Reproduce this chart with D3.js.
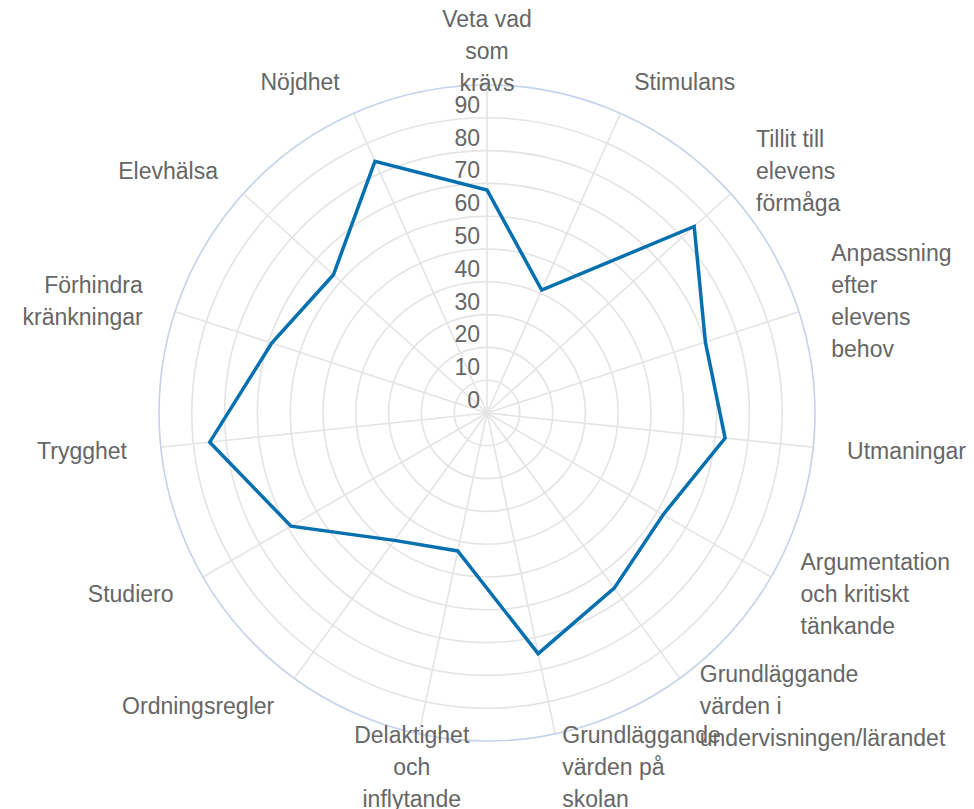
<!DOCTYPE html>
<html>
<head>
<meta charset="utf-8">
<script src="https://cdn.jsdelivr.net/npm/d3@7"></script>
<style>
  html, body { margin: 0; padding: 0; background: #fff; }
  svg { display: block; }
  text { font-family: "Liberation Sans", Arial, Helvetica, sans-serif; fill: #666; }
</style>
</head>
<body>
<div id="chart"></div>
<script>
// labels, with their line breaks as in the picture
const categories = [
  "Veta vad\nsom\nkrävs",
  "Stimulans",
  "Tillit till\nelevens\nförmåga",
  "Anpassning\nefter\nelevens\nbehov",
  "Utmaningar",
  "Argumentation\noch kritiskt\ntänkande",
  "Grundläggande\nvärden i\nundervisningen/lärandet",
  "Grundläggande\nvärden på\nskolan",
  "Delaktighet\noch\ninflytande",
  "Ordningsregler",
  "Studiero",
  "Trygghet",
  "Förhindra\nkränkningar",
  "Elevhälsa",
  "Nöjdhet"
];
const values = [68, 41, 85, 70, 73, 62, 66, 75, 43, 48, 69, 85, 69, 63, 84];
const ticks = [0, 10, 20, 30, 40, 50, 60, 70, 80, 90];
const maxValue = 100;

const width = 974, height = 809;
const cx = 487, cy = 413, outerR = 328;
const fontSize = 23, lineHeight = 32;

const svg = d3.select("#chart").append("svg")
  .attr("width", width)
  .attr("height", height);

const g = svg.append("g").attr("transform", "translate(" + cx + "," + cy + ")");

const r = d3.scaleLinear().domain([0, maxValue]).range([0, outerR]);
const angle = d3.scaleLinear().domain([0, categories.length]).range([0, 2 * Math.PI]);

// grid rings
g.selectAll(".ring")
  .data(ticks.filter(t => t > 0))
  .enter()
  .append("circle")
  .attr("class", "ring")
  .attr("r", d => r(d))
  .attr("fill", "none")
  .attr("stroke", "#e4e4e4")
  .attr("stroke-width", 1.6);

// spokes
g.selectAll(".spoke")
  .data(categories)
  .enter()
  .append("line")
  .attr("class", "spoke")
  .attr("x1", 0).attr("y1", 0)
  .attr("x2", (d, i) => r(maxValue) * Math.sin(angle(i)))
  .attr("y2", (d, i) => -r(maxValue) * Math.cos(angle(i)))
  .attr("stroke", "#e4e4e4")
  .attr("stroke-width", 1.6);

// outer circle
g.append("circle")
  .attr("r", r(maxValue))
  .attr("fill", "none")
  .attr("stroke", "#c6d2ea")
  .attr("stroke-width", 1.6);

// tick labels
g.selectAll(".tick")
  .data(ticks)
  .enter()
  .append("text")
  .attr("class", "tick")
  .attr("x", -7)
  .attr("y", d => -r(d) - 5)
  .attr("text-anchor", "end")
  .attr("font-size", fontSize)
  .text(d => d);

// data line
const line = d3.lineRadial()
  .angle((d, i) => angle(i))
  .radius(d => r(d))
  .curve(d3.curveLinearClosed);

g.append("path")
  .datum(values)
  .attr("d", line)
  .attr("fill", "none")
  .attr("stroke", "#0570b0")
  .attr("stroke-width", 3.5)
  .attr("stroke-linejoin", "miter");

// category labels
const labelR = outerR + 34;
function anchorFor(i) {
  const deg = Math.round(angle(i) * 180 / Math.PI);
  if (deg === 0 || deg === 180 || (deg > 180 && deg < 200)) return "middle";
  return deg < 180 ? "start" : "end";
}

const labels = g.selectAll(".label")
  .data(categories)
  .enter()
  .append("text")
  .attr("class", "label")
  .attr("font-size", fontSize)
  .attr("text-anchor", (d, i) => anchorFor(i))
  .attr("transform", (d, i) => "translate(" + (labelR * Math.sin(angle(i))) + "," + (-labelR * Math.cos(angle(i))) + ")");

labels.each(function (d) {
  const lines = d.split("\n");
  const sel = d3.select(this);
  lines.forEach(function (txt, k) {
    sel.append("tspan")
      .attr("x", 0)
      .attr("y", (k - (lines.length - 1) / 2) * lineHeight + 8)
      .text(txt);
  });
});
</script>
</body>
</html>
